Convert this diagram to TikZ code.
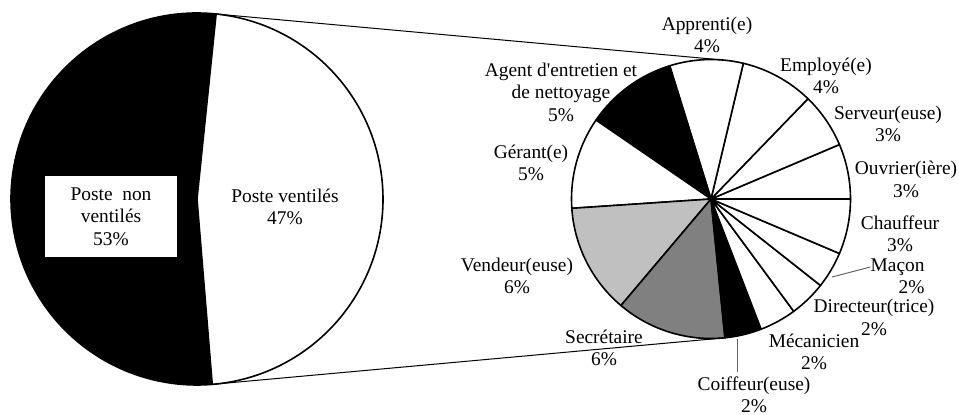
\documentclass[tikz,border=0pt]{standalone}
\usepackage{fontspec}
\setmainfont{Liberation Serif}
\usepackage{xcolor}
\usetikzlibrary{positioning}

\definecolor{lightgrey}{HTML}{C0C0C0}
\definecolor{midgrey}{HTML}{808080}

\begin{document}
\begin{tikzpicture}[x=0.5pt,y=0.5pt]
\tikzstyle{every node}+=[inner sep=0pt,align=center,font=\fontsize{9.7}{11.2}\selectfont]
\tikzstyle{slice}=[draw=black,line width=0.8pt,line join=round]
\tikzstyle{seriesline}=[draw=black,line width=0.5pt]
\tikzstyle{leader}=[draw=black!60,line width=0.5pt]
\useasboundingbox (0,0) rectangle (959,414);
% main pie
\coordinate (lc) at (197,215);
\filldraw[slice,fill=black] (lc) -- ++(84.1:186) arc[start angle=84.1,end angle=274.7,radius=186] -- cycle;
\filldraw[slice,fill=white] (lc) -- ++(-85.3:186) arc[start angle=-85.3,end angle=84.1,radius=186] -- cycle;
\coordinate (ltop) at ([shift={(84.1:186)}]lc);
\coordinate (lbot) at ([shift={(-85.3:186)}]lc);
\node[fill=white,minimum width=66pt,minimum height=40.5pt] (nonvent) at (111,197.5) {Poste\ \ non\\ventilés\\53\%};
\node (vent) at (285,207) {Poste ventilés\\47\%};
% second pie
\coordinate (rc) at (711,215);
\foreach \a/\b/\c in {0/22.98/white,22.98/45.96/white,45.96/76.6/white,76.6/107.23/white,
  107.23/145.53/black,145.53/183.83/white,183.83/229.79/lightgrey,229.79/275.74/midgrey,
  275.74/291.06/black,291.06/306.38/white,306.38/321.7/white,321.7/337.02/white,337.02/360/white}
  \filldraw[slice,fill=\c] (rc) -- ++(\a:139.5) arc[start angle=\a,end angle=\b,radius=139.5] -- cycle;
\coordinate (rtop) at ([shift={(84.8:139.5)}]rc);
\coordinate (rbot) at ([shift={(275.2:139.5)}]rc);
\draw[seriesline] (ltop) -- (rtop);
\draw[seriesline] (lbot) -- (rbot);
% labels
\node (apprenti) at (707,379) {Apprenti(e)\\4\%};
\node (employe) at (826,338) {Employé(e)\\4\%};
\node (serveur) at (888,290) {Serveur(euse)\\3\%};
\node (ouvrier) at (906,234.5) {Ouvrier(ière)\\3\%};
\node (chauffeur) at (900,180) {Chauffeur\\3\%};
\node[anchor=east,align=right] (macon) at (925,138) {Maçon\\2\%};
\node (directeur) at (874,96.5) {Directeur(trice)\\2\%};
\node (mecanicien) at (814,62) {Mécanicien\\2\%};
\node (coiffeur) at (754,19.5) {Coiffeur(euse)\\2\%};
\node (secretaire) at (604,66) {Secrétaire\\6\%};
\node (vendeur) at (517,138) {Vendeur(euse)\\6\%};
\node (gerant) at (531,251) {Gérant(e)\\5\%};
\node (agent) at (561,322) {Agent d\textquotesingle entretien et\\de nettoyage\\5\%};
% leader lines
\coordinate (maconpt) at (832,137);
\draw[leader] (maconpt) -- ([yshift=4.5pt]macon.west);
\coordinate (coiffeurpt) at (737,75);
\draw[leader] (coiffeurpt) -- ([yshift=2pt]coiffeurpt |- coiffeur.north);
\end{tikzpicture}
\end{document}
